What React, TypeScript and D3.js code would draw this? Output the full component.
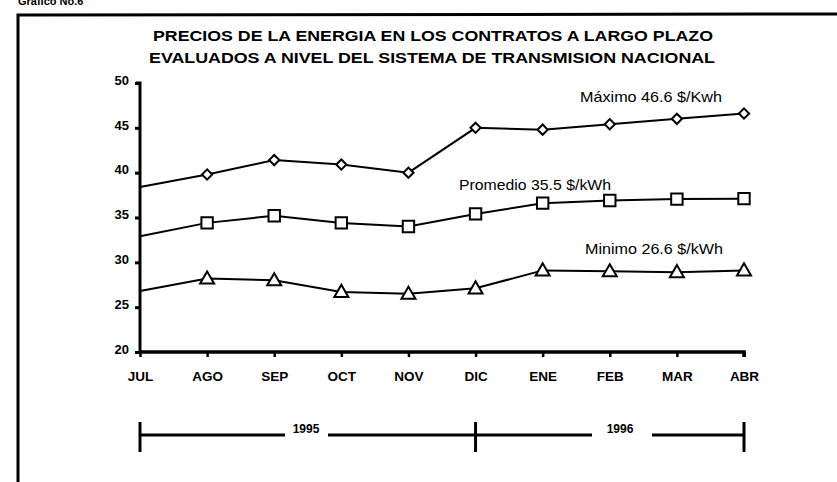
import { useEffect, useRef } from 'react';
import * as d3 from 'd3';

const months = ['JUL', 'AGO', 'SEP', 'OCT', 'NOV', 'DIC', 'ENE', 'FEB', 'MAR', 'ABR'];
const maximo = [38.4, 39.8, 41.4, 40.9, 40.0, 45.0, 44.8, 45.4, 46.0, 46.6];
const promedio = [32.9, 34.4, 35.2, 34.4, 34.0, 35.4, 36.6, 36.9, 37.05, 37.1];
const minimo = [26.8, 28.2, 28.0, 26.7, 26.5, 27.1, 29.1, 29.0, 28.9, 29.1];
const yTicks = [20, 25, 30, 35, 40, 45, 50];
const titleLines = [
  'PRECIOS DE LA ENERGIA EN LOS CONTRATOS A LARGO PLAZO',
  'EVALUADOS A NIVEL DEL SISTEMA DE TRANSMISION NACIONAL',
];
const seriesLabels = ['Máximo 46.6 $/Kwh', 'Promedio 35.5 $/kWh', 'Minimo 26.6 $/kWh'];
const years = ['1995', '1996'];

const W = 837;
const H = 482;
const FONT = '"Liberation Sans", Arial, sans-serif';

export default function App() {
  const svgRef = useRef<SVGSVGElement>(null);

  useEffect(() => {
    if (!svgRef.current) return;
    const svg = d3.select(svgRef.current);
    svg.selectAll('*').remove();

    const x = d3.scalePoint<string>().domain(months).range([140, 744]);
    const y = d3.scaleLinear().domain([20, 50]).range([352, 83]);

    // page header (cut off at top, as in the scan) and frame
    svg.append('text')
      .attr('x', 18).attr('y', 5)
      .attr('font-family', FONT).attr('font-size', 11).attr('font-weight', 'bold')
      .text('Gráfico No.6');
    svg.append('path')
      .attr('d', `M18,${H} L18,15 L${W},14`)
      .attr('fill', 'none').attr('stroke', '#000').attr('stroke-width', 3);

    // title
    const titleSpan = [[153, 560], [149, 566]];
    svg.selectAll('.title')
      .data(titleLines)
      .enter()
      .append('text')
      .attr('x', (d, i) => titleSpan[i][0])
      .attr('y', (d, i) => 41 + i * 22)
      .attr('textLength', (d, i) => titleSpan[i][1])
      .attr('lengthAdjust', 'spacingAndGlyphs')
      .attr('font-family', FONT).attr('font-size', 15.5).attr('font-weight', 'bold')
      .text(d => d);

    // y axis
    const yAxis = svg.append('g')
      .attr('transform', 'translate(140,0)')
      .call(d3.axisLeft(y).tickValues(yTicks).tickSize(5).tickFormat(d3.format('d')));
    yAxis.select('.domain').attr('stroke-width', 3).attr('d', `M-4,${y(50)}H0V${y(20)}`);
    yAxis.selectAll('.tick line').attr('stroke-width', 3);
    yAxis.selectAll('.tick text')
      .attr('font-family', FONT).attr('font-size', 13).attr('font-weight', 'bold')
      .attr('x', -11).attr('dy', '0.1em').attr('fill', '#000');

    // x axis
    const xAxis = svg.append('g')
      .attr('transform', `translate(0,${y(20)})`)
      .call(d3.axisBottom(x).tickSize(5));
    xAxis.select('.domain').attr('stroke-width', 3.5).attr('d', `M140,0H744V5`);
    xAxis.selectAll('.tick line').attr('stroke-width', 2.5).attr('y1', 0).attr('y2', 5);
    xAxis.selectAll('.tick text')
      .attr('font-family', FONT).attr('font-size', 13.5).attr('font-weight', 'bold')
      .attr('y', 19).attr('fill', '#000');

    const line = d3.line<number>()
      .x((d, i) => x(months[i])!)
      .y(d => y(d));

    const series = [maximo, promedio, minimo];
    const symbols = [d3.symbolSquare, d3.symbolSquare, d3.symbolTriangle];
    const sizes = [52, 130, 85];

    series.forEach((vals, si) => {
      svg.append('path')
        .datum(vals)
        .attr('d', line)
        .attr('fill', 'none')
        .attr('stroke', '#000')
        .attr('stroke-width', 2);

      svg.selectAll(`.mark${si}`)
        .data(vals.slice(1))
        .enter()
        .append('path')
        .attr('class', `mark${si}`)
        .attr('transform', (d, i) => `translate(${x(months[i + 1])},${y(d) + (si === 2 ? 1 : 0)})${si === 0 ? ' rotate(45)' : ''}`)
        .attr('d', d3.symbol().type(symbols[si]).size(sizes[si])())
        .attr('fill', '#fff')
        .attr('stroke', '#000')
        .attr('stroke-width', 2);
    });

    // series labels
    const labelPos = [[580, 102, 142], [459, 190, 152], [585, 254, 138]];
    svg.selectAll('.slabel')
      .data(seriesLabels)
      .enter()
      .append('text')
      .attr('x', (d, i) => labelPos[i][0])
      .attr('y', (d, i) => labelPos[i][1])
      .attr('textLength', (d, i) => labelPos[i][2])
      .attr('lengthAdjust', 'spacingAndGlyphs')
      .attr('font-family', FONT).attr('font-size', 14.5)
      .text(d => d);

    // year span bar
    const by = 435;
    const x0 = x('JUL')!;
    const xm = x('DIC')!;
    const x1 = x('ABR')!;
    const bar = svg.append('g').attr('stroke', '#000');
    [[x0, 285], [328, xm], [xm, 592], [652, x1]].forEach(([a, b]) => {
      bar.append('line').attr('x1', a).attr('x2', b).attr('y1', by).attr('y2', by).attr('stroke-width', 3);
    });
    [x0, xm, x1].forEach(xx => {
      bar.append('line').attr('x1', xx).attr('x2', xx).attr('y1', 422).attr('y2', 452).attr('stroke-width', 3);
    });
    svg.selectAll('.year')
      .data(years)
      .enter()
      .append('text')
      .attr('x', (d, i) => (i === 0 ? 306 : 620))
      .attr('y', 433)
      .attr('text-anchor', 'middle')
      .attr('font-family', FONT).attr('font-size', 12).attr('font-weight', 'bold')
      .text(d => d);
  }, []);

  return (
    <svg
      ref={svgRef}
      width={W}
      height={H}
      style={{ position: 'absolute', left: 0, top: 0, background: '#fff' }}
    />
  );
}
